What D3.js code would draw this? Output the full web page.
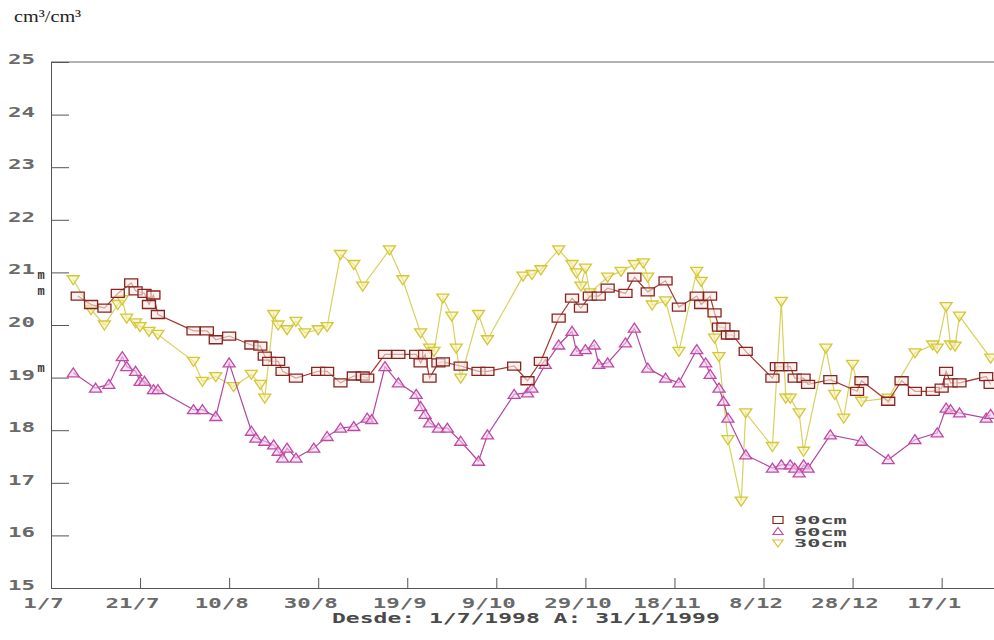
<!DOCTYPE html>
<html>
<head>
<meta charset="utf-8">
<script src="https://cdn.jsdelivr.net/npm/d3@7"></script>
<style>
  body { margin: 0; background: #fff; overflow: hidden; }
  .axis text, .lbl { font-family: "DejaVu Sans Mono", monospace; font-weight: bold; fill: #6a6a6a; }
  .axis path, .axis line { stroke: #555; }
</style>
</head>
<body>
<div class="chart"></div>
<script>
// readings, day number counted from 1/7/1998
var days90 = [6, 9, 12, 15, 18, 19, 21, 22, 23, 24, 32, 35, 37, 40, 45, 47, 48, 49, 51, 52, 55, 60, 62, 65, 68, 70, 71,
  75, 78, 82, 83, 84, 85, 87, 88, 92, 96, 98, 104, 107, 110, 114, 117, 119, 121, 123, 125, 129, 131, 134, 138, 141,
  145, 146, 148, 149, 150, 151, 152, 153, 156, 162, 163, 164, 166, 167, 169, 170, 175, 181, 182, 188, 191, 194, 198,
  200, 201, 202, 204, 210, 211];
var vals90 = [20.55, 20.39, 20.32, 20.6, 20.8, 20.65, 20.6, 20.39, 20.57, 20.2, 19.89, 19.89, 19.72, 19.79, 19.62, 19.6, 19.41, 19.31, 19.31, 19.12, 18.99, 19.12, 19.12, 18.9, 19.03, 19.03, 18.99,
  19.44, 19.44, 19.44, 19.28, 19.44, 18.99, 19.28, 19.3, 19.22, 19.12, 19.12, 19.22, 18.94, 19.31, 20.13, 20.51, 20.32, 20.55, 20.55, 20.7, 20.6, 20.91, 20.63, 20.84, 20.34,
  20.55, 20.39, 20.55, 20.23, 19.96, 19.96, 19.81, 19.81, 19.5, 18.99, 19.21, 19.21, 19.21, 18.99, 18.99, 18.87, 18.96, 18.74, 18.94, 18.55, 18.94, 18.74, 18.74,
  18.8, 19.12, 18.9, 18.9, 19.02, 18.87];

var days60 = [5, 10, 13, 16, 17, 19, 20, 21, 23, 24, 32, 34, 37, 40, 45, 46, 48, 50, 51, 52, 53, 55, 59, 62, 65, 68, 71, 72,
  75, 78, 82, 83, 84, 85, 87, 89, 92, 96, 98, 104, 107, 108, 111, 114, 117, 118, 120, 122, 123, 125, 129, 131, 134, 138, 141,
  145, 147, 148, 150, 151, 152, 156, 162, 164, 166, 167, 168, 169, 170, 175, 182, 188, 194, 199, 201, 202, 204, 210, 211];
var vals60 = [19.09, 18.8, 18.87, 19.4, 19.21, 19.12, 18.93, 18.93, 18.77, 18.77, 18.39, 18.39, 18.26, 19.28, 17.98, 17.85, 17.79, 17.72, 17.6, 17.47, 17.66, 17.47, 17.66, 17.88, 18.04, 18.07, 18.23, 18.2,
  19.21, 18.9, 18.68, 18.45, 18.3, 18.14, 18.04, 18.04, 17.79, 17.41, 17.91, 18.68, 18.71, 18.8, 19.25, 19.62, 19.88, 19.5, 19.53, 19.62, 19.25, 19.28, 19.66, 19.94, 19.18, 18.99, 18.9,
  19.53, 19.28, 19.06, 18.8, 18.55, 18.23, 17.53, 17.28, 17.34, 17.34, 17.28, 17.19, 17.34, 17.28, 17.91, 17.79, 17.44, 17.82, 17.95, 18.42, 18.39, 18.33, 18.23, 18.3];

var days30 = [5, 9, 12, 15, 16, 17, 19, 20, 22, 24, 32, 34, 37, 41, 45, 47, 48, 50, 51, 53, 55, 57, 60, 62, 65, 68, 70,
  76, 79, 83, 85, 86, 88, 90, 91, 92, 96, 98, 106, 108, 110, 114, 117, 118, 119, 120, 121, 125, 128, 131, 133, 134, 135, 138, 141,
  145, 146, 149, 150, 152, 155, 156, 162, 164, 165, 166, 168, 169, 174, 176, 178, 180, 182, 188, 194, 198, 199, 201, 202, 203, 204, 211];
var vals30 = [20.86, 20.29, 20.0, 20.39, 20.48, 20.13, 20.04, 19.97, 19.88, 19.82, 19.31, 18.93, 19.02, 18.83, 19.06, 18.87, 18.61, 20.2, 20.0, 19.91, 20.07, 19.85, 19.91, 19.97, 21.34, 21.15, 20.74,
  21.43, 20.86, 19.85, 19.56, 19.5, 20.51, 20.17, 19.56, 18.99, 20.2, 19.72, 20.93, 20.96, 21.05, 21.43, 21.15, 20.99, 20.74, 21.08, 20.61, 20.91, 21.02, 21.15, 21.18, 20.91, 20.38, 20.46, 19.5,
  21.02, 20.83, 19.75, 19.4, 17.82, 16.65, 18.33, 17.69, 20.45, 18.61, 18.61, 18.33, 17.6, 19.56, 18.68, 18.23, 19.25, 18.55, 18.61, 19.47, 19.62, 19.56, 20.35, 19.62, 19.6, 20.17, 19.37];

var tickDays = [0, 20, 40, 60, 80, 100, 120, 140, 160, 180, 200];
var yTicks = [15, 16, 17, 18, 19, 20, 21, 22, 23, 24, 25];
var seriesNames = ["90cm", "60cm", "30cm"];

var svgWidth = 994;
var svgHeight = 640;
var margin = { top: 62, left: 51 };
var width = 953;   // runs past the window, the picture is cut at the right
var height = 526;

var start = new Date(1998, 6, 1);
var end = new Date(1999, 0, 31);
function toDate(d) { return d3.timeDay.offset(start, d); }

var svg = d3.select(".chart").append("svg")
  .attr("width", svgWidth)
  .attr("height", svgHeight);

var chartGroup = svg.append("g")
  .attr("transform", `translate(${margin.left}, ${margin.top})`);

var xScale = d3.scaleTime().domain([start, end]).range([0, width]);
var yScale = d3.scaleLinear().domain([15, 25]).range([height, 0]);

// stretch the blocky printer font like the original
function stretch(sel, w) {
  sel.attr("textLength", function() { return this.textContent.length * w; })
    .attr("lengthAdjust", "spacingAndGlyphs");
}

// top frame line
chartGroup.append("line")
  .attr("x1", 0).attr("x2", width)
  .attr("y1", yScale(25)).attr("y2", yScale(25))
  .attr("stroke", "#666");

var leftAxis = d3.axisLeft(yScale)
  .tickValues(yTicks)
  .tickFormat(d3.format("d"))
  .tickSizeInner(-18)
  .tickSizeOuter(0)
  .tickPadding(16);

var yAxis = chartGroup.append("g")
  .attr("class", "axis")
  .call(leftAxis);
yAxis.selectAll("text").style("font-size", "14px").attr("dy", "0.1em");
stretch(yAxis.selectAll("text"), 13.5);

var bottomAxis = d3.axisBottom(xScale)
  .tickValues(tickDays.map(toDate))
  .tickFormat(d3.timeFormat("%-d/%-m"))
  .tickSizeInner(-10)
  .tickSizeOuter(0)
  .tickPadding(10);

var xAxis = chartGroup.append("g")
  .attr("class", "axis")
  .attr("transform", `translate(0, ${height})`)
  .call(bottomAxis);
xAxis.selectAll("text").style("font-size", "14px").attr("dx", -8);
stretch(xAxis.selectAll("text"), 13.5);

var line = d3.line()
  .x(d => xScale(toDate(d[0])))
  .y(d => yScale(d[1]));

function pairs(days, vals) { return days.map((d, i) => [d, vals[i]]); }

var series = [
  { name: "30cm", data: pairs(days30, vals30), line: "#d9d15a", stroke: "#d2c63a", fill: "#f6f2b0",
    shape: "M0,5L6,-4L-6,-4Z", small: "M0,4L5,-3L-5,-3Z" },
  { name: "60cm", data: pairs(days60, vals60), line: "#b3469e", stroke: "#bf4aa6", fill: "#f3d0ec",
    shape: "M0,-5L6,4L-6,4Z", small: "M0,-4L5,3L-5,3Z" },
  { name: "90cm", data: pairs(days90, vals90), line: "#a8352c", stroke: "#84261f", fill: "#fbe9e6",
    shape: "M-6.5,-4H6.5V4H-6.5Z", small: "M-5,-3.5H5V3.5H-5Z" }
];

series.forEach(function(s) {
  chartGroup.append("path")
    .datum(s.data)
    .attr("fill", "none")
    .attr("stroke", s.line)
    .attr("stroke-width", 1.2)
    .attr("d", line);

  chartGroup.selectAll(null)
    .data(s.data)
    .enter()
    .append("path")
    .attr("transform", d => `translate(${xScale(toDate(d[0]))}, ${yScale(d[1])})`)
    .attr("d", s.shape)
    .attr("fill", s.fill)
    .attr("fill-opacity", 0.6)
    .attr("stroke", s.stroke)
    .attr("stroke-width", 1.3);

  // little "m" at the level where each series starts
  chartGroup.append("text")
    .attr("x", -10)
    .attr("y", yScale(s.data[0][1]) - 1)
    .attr("text-anchor", "middle")
    .style("font-family", "'Liberation Mono', monospace")
    .style("font-weight", "bold")
    .style("font-size", "12px")
    .style("fill", "#333")
    .text("m");
});

// legend
var legend = chartGroup.append("g")
  .attr("transform", `translate(${778 - margin.left}, ${520 - margin.top})`);

seriesNames.forEach(function(name, i) {
  var s = series.find(d => d.name == name);
  legend.append("path")
    .attr("transform", `translate(0, ${i * 11.5})`)
    .attr("d", s.small)
    .attr("fill", "#fff")
    .attr("stroke", s.stroke)
    .attr("stroke-width", 1.2);
  var t = legend.append("text")
    .attr("class", "lbl")
    .attr("x", 16)
    .attr("y", i * 11.5 + 4)
    .style("font-size", "10px")
    .style("fill", "#4a4a4a")
    .text(name);
  stretch(t, 13.2);
});

// unit label and date range
var unit = svg.append("text")
  .attr("x", 14)
  .attr("y", 22)
  .attr("font-family", "Liberation Serif, Times New Roman, serif")
  .style("font-size", "17px")
  .style("fill", "#222")
  .text("cm³/cm³");
stretch(unit, 9.6);

var range = svg.append("text")
  .attr("class", "lbl")
  .attr("x", 332)
  .attr("y", 623)
  .style("font-size", "14px")
  .style("fill", "#4a4a4a")
  .text("Desde: 1/7/1998 A: 31/1/1999");
stretch(range, 13.85);
</script>
</body>
</html>
